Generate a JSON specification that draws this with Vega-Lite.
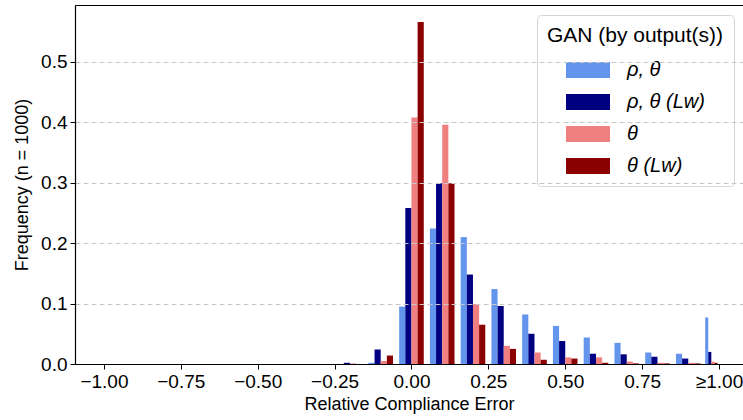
{
  "$schema": "https://vega.github.io/schema/vega-lite/v6.json",
  "width": 668,
  "height": 359,
  "autosize": {"type": "none"},
  "padding": {"left": 75, "top": 5, "right": 0, "bottom": 56},
  "background": "white",
  "data": {
    "values": [
      {"b": -0.2, "lo": -0.25, "hi": -0.15, "s": "ρ, θ", "f": 0.0},
      {"b": -0.2, "lo": -0.25, "hi": -0.15, "s": "ρ, θ (Lw)", "f": 0.002},
      {"b": -0.2, "lo": -0.25, "hi": -0.15, "s": "θ", "f": 0.001},
      {"b": -0.2, "lo": -0.25, "hi": -0.15, "s": "θ (Lw)", "f": 0.0},
      {"b": -0.1, "lo": -0.15, "hi": -0.05, "s": "ρ, θ", "f": 0.002},
      {"b": -0.1, "lo": -0.15, "hi": -0.05, "s": "ρ, θ (Lw)", "f": 0.024},
      {"b": -0.1, "lo": -0.15, "hi": -0.05, "s": "θ", "f": 0.005},
      {"b": -0.1, "lo": -0.15, "hi": -0.05, "s": "θ (Lw)", "f": 0.014},
      {"b": 0.0, "lo": -0.05, "hi": 0.05, "s": "ρ, θ", "f": 0.095},
      {"b": 0.0, "lo": -0.05, "hi": 0.05, "s": "ρ, θ (Lw)", "f": 0.258},
      {"b": 0.0, "lo": -0.05, "hi": 0.05, "s": "θ", "f": 0.408},
      {"b": 0.0, "lo": -0.05, "hi": 0.05, "s": "θ (Lw)", "f": 0.566},
      {"b": 0.1, "lo": 0.05, "hi": 0.15, "s": "ρ, θ", "f": 0.224},
      {"b": 0.1, "lo": 0.05, "hi": 0.15, "s": "ρ, θ (Lw)", "f": 0.299},
      {"b": 0.1, "lo": 0.05, "hi": 0.15, "s": "θ", "f": 0.396},
      {"b": 0.1, "lo": 0.05, "hi": 0.15, "s": "θ (Lw)", "f": 0.299},
      {"b": 0.2, "lo": 0.15, "hi": 0.25, "s": "ρ, θ", "f": 0.210},
      {"b": 0.2, "lo": 0.15, "hi": 0.25, "s": "ρ, θ (Lw)", "f": 0.148},
      {"b": 0.2, "lo": 0.15, "hi": 0.25, "s": "θ", "f": 0.099},
      {"b": 0.2, "lo": 0.15, "hi": 0.25, "s": "θ (Lw)", "f": 0.065},
      {"b": 0.3, "lo": 0.25, "hi": 0.35, "s": "ρ, θ", "f": 0.124},
      {"b": 0.3, "lo": 0.25, "hi": 0.35, "s": "ρ, θ (Lw)", "f": 0.096},
      {"b": 0.3, "lo": 0.25, "hi": 0.35, "s": "θ", "f": 0.030},
      {"b": 0.3, "lo": 0.25, "hi": 0.35, "s": "θ (Lw)", "f": 0.025},
      {"b": 0.4, "lo": 0.35, "hi": 0.45, "s": "ρ, θ", "f": 0.082},
      {"b": 0.4, "lo": 0.35, "hi": 0.45, "s": "ρ, θ (Lw)", "f": 0.050},
      {"b": 0.4, "lo": 0.35, "hi": 0.45, "s": "θ", "f": 0.019},
      {"b": 0.4, "lo": 0.35, "hi": 0.45, "s": "θ (Lw)", "f": 0.007},
      {"b": 0.5, "lo": 0.45, "hi": 0.55, "s": "ρ, θ", "f": 0.063},
      {"b": 0.5, "lo": 0.45, "hi": 0.55, "s": "ρ, θ (Lw)", "f": 0.038},
      {"b": 0.5, "lo": 0.45, "hi": 0.55, "s": "θ", "f": 0.011},
      {"b": 0.5, "lo": 0.45, "hi": 0.55, "s": "θ (Lw)", "f": 0.009},
      {"b": 0.6, "lo": 0.55, "hi": 0.65, "s": "ρ, θ", "f": 0.044},
      {"b": 0.6, "lo": 0.55, "hi": 0.65, "s": "ρ, θ (Lw)", "f": 0.017},
      {"b": 0.6, "lo": 0.55, "hi": 0.65, "s": "θ", "f": 0.011},
      {"b": 0.6, "lo": 0.55, "hi": 0.65, "s": "θ (Lw)", "f": 0.002},
      {"b": 0.7, "lo": 0.65, "hi": 0.75, "s": "ρ, θ", "f": 0.035},
      {"b": 0.7, "lo": 0.65, "hi": 0.75, "s": "ρ, θ (Lw)", "f": 0.016},
      {"b": 0.7, "lo": 0.65, "hi": 0.75, "s": "θ", "f": 0.004},
      {"b": 0.7, "lo": 0.65, "hi": 0.75, "s": "θ (Lw)", "f": 0.001},
      {"b": 0.8, "lo": 0.75, "hi": 0.85, "s": "ρ, θ", "f": 0.019},
      {"b": 0.8, "lo": 0.75, "hi": 0.85, "s": "ρ, θ (Lw)", "f": 0.012},
      {"b": 0.8, "lo": 0.75, "hi": 0.85, "s": "θ", "f": 0.002},
      {"b": 0.8, "lo": 0.75, "hi": 0.85, "s": "θ (Lw)", "f": 0.001},
      {"b": 0.9, "lo": 0.85, "hi": 0.95, "s": "ρ, θ", "f": 0.017},
      {"b": 0.9, "lo": 0.85, "hi": 0.95, "s": "ρ, θ (Lw)", "f": 0.009},
      {"b": 0.9, "lo": 0.85, "hi": 0.95, "s": "θ", "f": 0.002},
      {"b": 0.9, "lo": 0.85, "hi": 0.95, "s": "θ (Lw)", "f": 0.001},
      {"b": 1.0, "lo": 0.95, "hi": 1.0, "s": "ρ, θ", "f": 0.077},
      {"b": 1.0, "lo": 0.95, "hi": 1.0, "s": "ρ, θ (Lw)", "f": 0.020},
      {"b": 1.0, "lo": 0.95, "hi": 1.0, "s": "θ", "f": 0.004},
      {"b": 1.0, "lo": 0.95, "hi": 1.0, "s": "θ (Lw)", "f": 0.002}
    ]
  },
  "transform": [
    {"calculate": "indexof(['ρ, θ','ρ, θ (Lw)','θ','θ (Lw)'], datum.s)", "as": "i"},
    {"calculate": "datum.lo + (datum.hi - datum.lo) * (0.1 + 0.2 * datum.i)", "as": "x0"},
    {"calculate": "datum.x0 + 0.2 * (datum.hi - datum.lo)", "as": "x1"}
  ],
  "layer": [
    {
      "mark": {"type": "rect", "strokeWidth": 0},
      "encoding": {
        "x": {
          "field": "x0", "type": "quantitative",
          "scale": {"domain": [-1.094, 1.078], "nice": false, "zero": false},
          "axis": {
            "orient": "bottom",
            "title": "Relative Compliance Error",
            "values": [-1, -0.75, -0.5, -0.25, 0, 0.25, 0.5, 0.75, 1],
            "labelExpr": "datum.value >= 1 ? '≥1.00' : format(datum.value, '.2f')",
            "grid": false,
            "zindex": 1
          }
        },
        "x2": {"field": "x1"},
        "y": {
          "field": "f", "type": "quantitative",
          "scale": {"domain": [0, 0.594], "nice": false},
          "axis": {
            "title": "Frequency (n = 1000)",
            "titlePadding": 9,
            "values": [0, 0.1, 0.2, 0.3, 0.4, 0.5],
            "format": ".1f",
            "grid": true,
            "gridColor": "#c8c8c8",
            "gridDash": [5, 3],
            "gridWidth": 1,
            "zindex": 1
          }
        },
        "y2": {"datum": 0},
        "color": {
          "field": "s", "type": "nominal",
          "scale": {
            "domain": ["ρ, θ", "ρ, θ (Lw)", "θ", "θ (Lw)"],
            "range": ["#6495ED", "#000080", "#F08080", "#8B0000"]
          },
          "legend": {
            "title": "GAN (by output(s))",
            "orient": "none",
            "legendX": 462,
            "legendY": 10,
            "titleAnchor": "middle",
            "titleFontSize": 21,
            "titleFont": "Liberation Sans",
            "titleFontWeight": "normal",
            "titleColor": "black",
            "titlePadding": 2,
            "labelFont": "Liberation Sans",
            "labelFontSize": 20,
            "labelFontStyle": "italic",
            "labelColor": "black",
            "labelOffset": 17,
            "symbolType": "M-1,-0.36H1V0.36H-1Z",
            "symbolSize": 1936,
            "symbolStrokeWidth": 0,
            "rowPadding": 0,
            "padding": 10,
            "fillColor": "white",
            "strokeColor": "#d4d4d4",
            "cornerRadius": 4
          }
        }
      }
    },
    {
      "mark": {"type": "tick", "opacity": 0},
      "encoding": {
        "x": {
          "field": "x0", "type": "quantitative",
          "axis": {"orient": "top", "labels": false, "ticks": false, "grid": false, "title": null, "domainColor": "black", "domainWidth": 1.2}
        }
      }
    }
  ],
  "resolve": {"axis": {"x": "independent"}},
  "config": {
    "view": {"stroke": null},
    "axis": {
      "labelFont": "Liberation Sans",
      "labelFontSize": 19,
      "labelColor": "black",
      "titleFont": "Liberation Sans",
      "titleFontSize": 18,
      "titleFontWeight": "normal",
      "titleColor": "black",
      "domainColor": "black",
      "domainWidth": 1.2,
      "tickColor": "black",
      "tickSize": 5,
      "labelPadding": 3
    }
  }
}
